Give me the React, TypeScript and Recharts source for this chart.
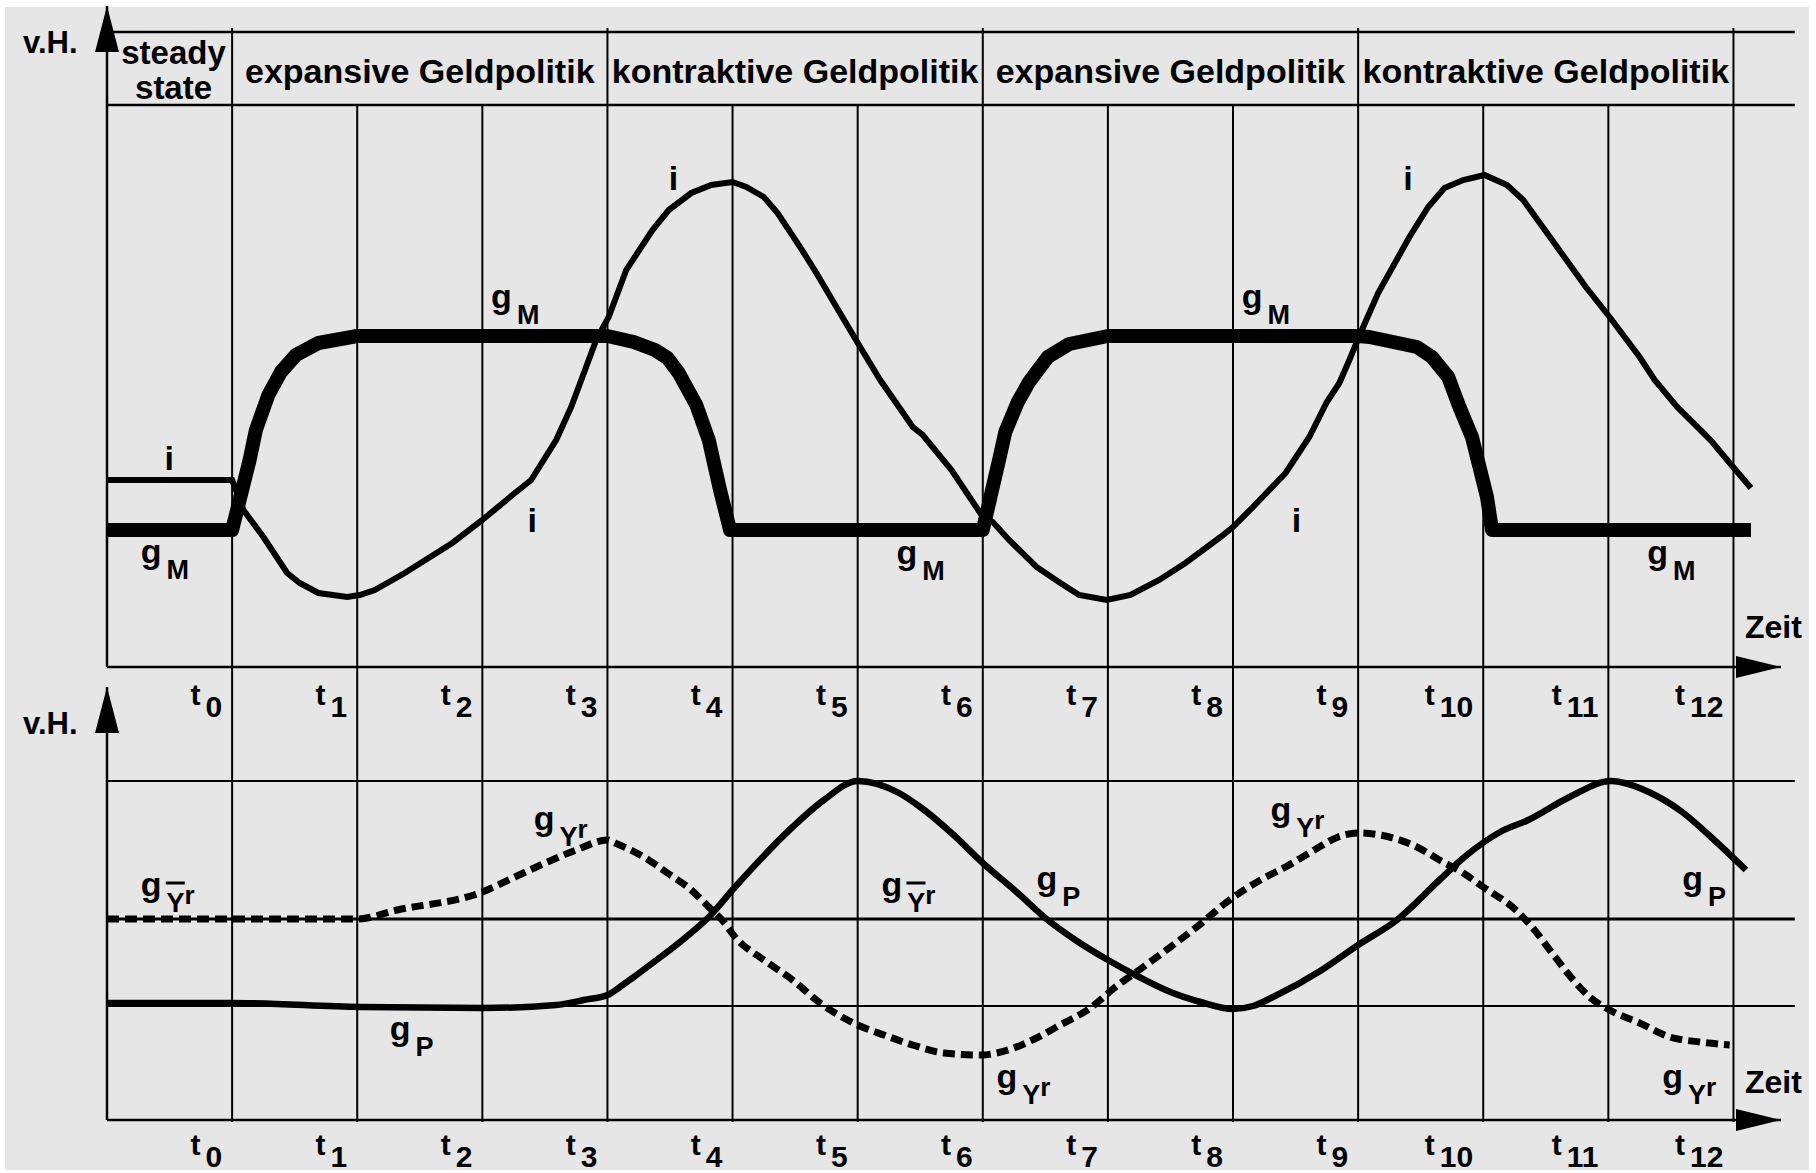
import React from 'react';
import { LineChart, Line, XAxis, YAxis, ReferenceLine, ReferenceArea, ReferenceDot } from 'recharts';

const FONT = '"Liberation Sans", Arial, Helvetica, sans-serif';

// ---------- time axis ----------
const timeTicks = [1, 2, 3, 4, 5, 6, 7, 8, 9, 10, 11, 12, 13];
const timeLabels = ['0', '1', '2', '3', '4', '5', '6', '7', '8', '9', '10', '11', '12'];
const policySwitches = [1, 4, 7, 10, 13];

// ---------- policy phases (header) ----------
const phaseStarts = [0, 1, 4, 7, 10];
const phaseEnds = [1, 4, 7, 10, 13];
const phaseNames = [
  ['steady', 'state'],
  ['expansive Geldpolitik'],
  ['kontraktive Geldpolitik'],
  ['expansive Geldpolitik'],
  ['kontraktive Geldpolitik'],
];

// ---------- upper panel: money growth g_M and interest rate i ----------
const gMPoints: [number, number][] = [
  [0, 13.7], [1.0, 13.7], [1.14, 20.7], [1.19, 23.7], [1.29, 27.2], [1.39, 29.5], [1.51, 31.2],
  [1.69, 32.4], [2.0, 33.1], [4.0, 33.1], [4.21, 32.5], [4.38, 31.7], [4.48, 30.9], [4.57, 29.4],
  [4.71, 26.2], [4.81, 22.7], [4.9, 17.7], [4.98, 13.7], [7.0, 13.7], [7.13, 20.7], [7.18, 23.5],
  [7.28, 26.5], [7.37, 28.5], [7.52, 31.0], [7.69, 32.3], [8.0, 33.1], [10.0, 33.1], [10.09, 33.0],
  [10.47, 32.0], [10.59, 31.0], [10.72, 29.0], [10.81, 26.0], [10.91, 23.0], [10.97, 20.0],
  [11.03, 17.0], [11.07, 13.7], [13.14, 13.7],
];

const iPoints: [number, number][] = [
  [0, 18.7], [1.0, 18.7], [1.09, 15.7], [1.25, 13.0], [1.44, 9.4], [1.54, 8.4], [1.69, 7.4],
  [1.92, 7.0], [2.02, 7.2], [2.14, 7.7], [2.38, 9.4], [2.76, 12.4], [3.0, 14.7], [3.26, 17.4],
  [3.39, 18.7], [3.59, 22.7], [3.71, 26.0], [3.91, 32.7], [4.01, 35.0], [4.15, 39.7], [4.36, 43.7],
  [4.49, 45.7], [4.67, 47.4], [4.83, 48.2], [5.0, 48.5], [5.11, 48.0], [5.25, 47.0], [5.36, 45.4],
  [5.54, 42.0], [5.67, 39.4], [5.83, 36.0], [6.02, 32.0], [6.18, 28.7], [6.33, 26.0], [6.44, 24.0],
  [6.52, 23.2], [6.75, 19.7], [6.99, 15.2], [7.08, 14.5], [7.21, 12.7], [7.43, 10.0], [7.62, 8.4],
  [7.77, 7.2], [7.99, 6.7], [8.18, 7.2], [8.41, 8.7], [8.62, 10.4], [8.9, 13.0], [9.0, 14.0],
  [9.16, 16.0], [9.42, 19.4], [9.61, 23.0], [9.75, 26.5], [9.85, 28.4], [9.93, 30.7], [10.03, 33.7],
  [10.16, 37.4], [10.41, 43.0], [10.56, 46.0], [10.69, 47.9], [10.84, 48.7], [11.01, 49.2],
  [11.19, 48.2], [11.32, 46.7], [11.55, 42.7], [11.82, 38.0], [12.01, 35.0], [12.25, 31.0],
  [12.37, 28.7], [12.55, 26.0], [12.76, 23.4], [12.83, 22.5], [12.97, 20.4], [13.14, 17.9],
];

// ---------- lower panel: inflation g_P and real growth g_Yr ----------
const gPPoints: [number, number][] = [
  [0, 11.7], [1.0, 11.7], [2.02, 11.3], [3.0, 11.2], [3.59, 11.5], [3.81, 12.0], [4.0, 12.5],
  [4.1, 13.3], [4.2, 14.2], [4.35, 15.6], [4.6, 18.0], [4.81, 20.3], [5.02, 23.3], [5.48, 29.3],
  [5.73, 32.0], [6.0, 33.9], [6.33, 32.7], [6.5, 31.3], [6.75, 28.7], [7.0, 25.7], [7.27, 22.8],
  [7.52, 20.0], [7.74, 18.0], [8.0, 16.0], [8.25, 14.3], [8.5, 12.8], [8.74, 11.8], [9.0, 11.1],
  [9.16, 11.4], [9.32, 12.3], [9.71, 15.0], [10.0, 17.5], [10.31, 20.0], [10.65, 24.0],
  [10.85, 26.3], [11.15, 28.9], [11.36, 30.0], [11.69, 32.3], [12.02, 33.9], [12.34, 32.7],
  [12.59, 30.8], [12.82, 28.3], [13.1, 25.0],
];

const gYrPoints: [number, number][] = [
  [0, 20.1], [2.0, 20.1], [2.32, 21.0], [3.0, 22.8], [3.26, 24.3], [3.52, 25.8], [3.75, 27.0],
  [4.0, 28.0], [4.06, 27.7], [4.29, 26.3], [4.48, 24.7], [4.67, 23.0], [4.81, 21.3], [4.93, 19.8],
  [5.02, 18.3], [5.25, 16.0], [5.48, 14.0], [5.7, 11.7], [6.0, 9.5], [6.21, 8.5], [6.44, 7.5],
  [6.69, 6.7], [6.99, 6.5], [7.11, 6.7], [7.43, 8.2], [7.59, 9.3], [7.87, 11.3], [8.06, 13.3],
  [8.25, 15.0], [8.5, 17.3], [8.75, 19.7], [8.94, 21.7], [9.22, 24.0], [9.42, 25.3], [9.65, 27.0],
  [9.84, 28.3], [10.0, 28.7], [10.25, 28.3], [10.47, 27.3], [10.65, 26.0], [10.84, 24.7],
  [11.0, 23.3], [11.26, 21.0], [11.39, 19.3], [11.55, 16.7], [11.72, 14.0], [11.85, 12.3],
  [12.01, 11.0], [12.25, 9.7], [12.49, 8.3], [12.73, 7.8], [12.97, 7.5],
];

// reference levels of the lower panel (upper band, potential growth g_Ȳr, lower band)
const lowerLevels = [33.9, 20.1, 11.4];
const potentialLevel = 20.1;

// ---------- curve annotations ----------
type Ann = { x: number; y: number; main: string; sub?: string; sup?: string; bar?: boolean };
const topAnnotations: Ann[] = [
  { x: 0.46, y: 19.7, main: 'i' },
  { x: 0.27, y: 10.4, main: 'g', sub: 'M' },
  { x: 3.07, y: 35.9, main: 'g', sub: 'M' },
  { x: 4.49, y: 47.7, main: 'i' },
  { x: 3.36, y: 13.5, main: 'i' },
  { x: 6.31, y: 10.3, main: 'g', sub: 'M' },
  { x: 9.07, y: 35.9, main: 'g', sub: 'M' },
  { x: 10.36, y: 47.7, main: 'i' },
  { x: 9.47, y: 13.5, main: 'i' },
  { x: 12.31, y: 10.3, main: 'g', sub: 'M' },
];
const bottomAnnotations: Ann[] = [
  { x: 0.27, y: 22.4, main: 'g', sub: 'Y', sup: 'r', bar: true },
  { x: 3.41, y: 29.0, main: 'g', sub: 'Y', sup: 'r' },
  { x: 2.26, y: 8.0, main: 'g', sub: 'P' },
  { x: 6.19, y: 22.4, main: 'g', sub: 'Y', sup: 'r', bar: true },
  { x: 7.43, y: 23.0, main: 'g', sub: 'P' },
  { x: 7.11, y: 3.2, main: 'g', sub: 'Y', sup: 'r' },
  { x: 9.3, y: 29.9, main: 'g', sub: 'Y', sup: 'r' },
  { x: 12.59, y: 23.0, main: 'g', sub: 'P' },
  { x: 12.43, y: 3.2, main: 'g', sub: 'Y', sup: 'r' },
];

const toRows = (pts: [number, number][]) => pts.map(([x, v]) => ({ x, v }));

// ---------- layout constants ----------
const X_MAX = 13.38;
const X_LINE_END = 13.49;
const TOP_Y_MAX = 66.1;
const BOT_Y_MAX = 43.3;
const HEADER_LOW = 56.2;
const HEADER_HIGH = 63.5;
const HEADER_TICK_TOP = 63.9;
const BOT_GRID_TOP = 45.3;
const BOT_GRID_BOTTOM = -0.2;

const txt = { fontFamily: FONT, fontWeight: 700 as const, fill: '#000' };

const makeTimeTick = (offset: number) => (props: any) => {
  const { x, y, payload } = props;
  const idx = timeTicks.indexOf(payload.value);
  return (
    <text x={x - 10} y={y + offset} textAnchor="end" fontSize={30} {...txt}>
      t<tspan dx={5} dy={12}>{timeLabels[idx]}</tspan>
    </text>
  );
};

const YHead = (props: any) => {
  const { viewBox } = props;
  const x = viewBox.x + viewBox.width;
  const y = viewBox.y;
  return (
    <g>
      <polygon points={`${x},${y} ${x - 12},${y + 46} ${x + 12},${y + 46}`} fill="#000" />
      <text x={x - 84} y={y + 47} fontSize={31} {...txt}>v.H.</text>
    </g>
  );
};

const XHead = (labelDy: number) => (props: any) => {
  const { viewBox } = props;
  const xr = viewBox.x + viewBox.width;
  const y = viewBox.y;
  return (
    <g>
      <polygon points={`${xr},${y} ${xr - 45},${y - 11} ${xr - 45},${y + 11}`} fill="#000" />
      <text x={xr - 36} y={y + labelDy} fontSize={32} {...txt}>Zeit</text>
    </g>
  );
};

const CurveLabel = (props: any) => {
  const { viewBox, ann } = props;
  const x = viewBox.x + viewBox.width / 2;
  const y = viewBox.y + viewBox.height / 2;
  const a: Ann = ann;
  return (
    <g>
      <text x={x} y={y} fontSize={34} {...txt}>
        {a.main}
        {a.sub ? (
          <tspan dx={5} dy={16} fontSize={27}>
            {a.sub}
          </tspan>
        ) : null}
        {a.sup ? (
          <tspan dy={-8} fontSize={26}>
            {a.sup}
          </tspan>
        ) : null}
      </text>
      {a.bar ? <line x1={x + 25} x2={x + 44} y1={y - 13} y2={y - 13} stroke="#000" strokeWidth={3} /> : null}
    </g>
  );
};

const PhaseLabel = (props: any) => {
  const { viewBox, lines } = props;
  const cx = viewBox.x + viewBox.width / 2;
  const top = viewBox.y;
  if (lines.length === 2) {
    return (
      <text textAnchor="middle" fontSize={33} {...txt}>
        <tspan x={cx + 4} y={top + 32}>{lines[0]}</tspan>
        <tspan x={cx + 4} y={top + 67}>{lines[1]}</tspan>
      </text>
    );
  }
  return (
    <text x={cx} y={top + 51} textAnchor="middle" fontSize={34} {...txt}>
      {lines[0]}
    </text>
  );
};

const TopPanel = () => (
  <LineChart width={1816} height={740} margin={{ top: 6, right: 35, bottom: 23, left: 0 }}>
    <XAxis
      type="number"
      dataKey="x"
      domain={[0, X_MAX]}
      ticks={timeTicks}
      allowDataOverflow
      height={50}
      tickSize={0}
      tickMargin={0}
      tickLine={false}
      axisLine={{ stroke: '#000', strokeWidth: 2.5 }}
      tick={makeTimeTick(38)}
      label={XHead(-29)}
    />
    <YAxis
      type="number"
      domain={[0, TOP_Y_MAX]}
      width={107}
      tick={false}
      tickLine={false}
      axisLine={{ stroke: '#000', strokeWidth: 2.5 }}
      label={YHead}
      allowDataOverflow
    />
    {/* header band */}
    <ReferenceLine
      segment={[{ x: 0, y: HEADER_HIGH }, { x: X_LINE_END, y: HEADER_HIGH }]}
      stroke="#000"
      strokeWidth={2.5}
      ifOverflow="visible"
    />
    <ReferenceLine
      segment={[{ x: 0, y: HEADER_LOW }, { x: X_LINE_END, y: HEADER_LOW }]}
      stroke="#000"
      strokeWidth={2.5}
      ifOverflow="visible"
    />
    {timeTicks.map((t) => (
      <ReferenceLine
        key={`v${t}`}
        segment={[{ x: t, y: 0 }, { x: t, y: policySwitches.includes(t) ? HEADER_TICK_TOP : HEADER_LOW }]}
        stroke="#000"
        strokeWidth={2}
        ifOverflow="visible"
      />
    ))}
    {phaseNames.map((lines, k) => (
      <ReferenceArea
        key={`p${k}`}
        x1={phaseStarts[k]}
        x2={phaseEnds[k]}
        y1={HEADER_LOW}
        y2={HEADER_HIGH}
        fill="none"
        fillOpacity={0}
        stroke="none"
        ifOverflow="visible"
        label={(p: any) => <PhaseLabel {...p} lines={lines} />}
      />
    ))}
    <Line
      data={toRows(iPoints)}
      dataKey="v"
      type="linear"
      stroke="#000"
      strokeWidth={6}
      dot={false}
      activeDot={false}
      isAnimationActive={false}
    />
    <Line
      data={toRows(gMPoints)}
      dataKey="v"
      type="linear"
      stroke="#000"
      strokeWidth={14}
      strokeLinejoin="round"
      dot={false}
      activeDot={false}
      isAnimationActive={false}
    />
    {topAnnotations.map((a, k) => (
      <ReferenceDot
        key={`ta${k}`}
        x={a.x}
        y={a.y}
        r={0}
        fill="none"
        stroke="none"
        ifOverflow="visible"
        label={(p: any) => <CurveLabel {...p} ann={a} />}
      />
    ))}
  </LineChart>
);

const BottomPanel = () => (
  <LineChart width={1816} height={533} margin={{ top: 47, right: 35, bottom: 13, left: 0 }}>
    <XAxis
      type="number"
      dataKey="x"
      domain={[0, X_MAX]}
      ticks={timeTicks}
      allowDataOverflow
      height={40}
      tickSize={0}
      tickMargin={0}
      tickLine={false}
      axisLine={{ stroke: '#000', strokeWidth: 2.5 }}
      tick={makeTimeTick(35)}
      label={XHead(-27)}
    />
    <YAxis
      type="number"
      domain={[0, BOT_Y_MAX]}
      width={107}
      tick={false}
      tickLine={false}
      axisLine={{ stroke: '#000', strokeWidth: 2.5 }}
      label={YHead}
      allowDataOverflow
    />
    {timeTicks.map((t) => (
      <ReferenceLine
        key={`bv${t}`}
        segment={[{ x: t, y: BOT_GRID_BOTTOM }, { x: t, y: BOT_GRID_TOP }]}
        stroke="#000"
        strokeWidth={2}
        ifOverflow="visible"
      />
    ))}
    {lowerLevels.map((lv) => (
      <ReferenceLine
        key={`h${lv}`}
        segment={[{ x: 0, y: lv }, { x: X_LINE_END, y: lv }]}
        stroke="#000"
        strokeWidth={lv === potentialLevel ? 3 : 2}
        ifOverflow="visible"
      />
    ))}
    <Line
      data={toRows(gPPoints)}
      dataKey="v"
      type="monotoneX"
      stroke="#000"
      strokeWidth={6.5}
      dot={false}
      activeDot={false}
      isAnimationActive={false}
    />
    <Line
      data={toRows(gYrPoints)}
      dataKey="v"
      type="monotoneX"
      stroke="#000"
      strokeWidth={7}
      strokeDasharray="12 6"
      dot={false}
      activeDot={false}
      isAnimationActive={false}
    />
    {bottomAnnotations.map((a, k) => (
      <ReferenceDot
        key={`ba${k}`}
        x={a.x}
        y={a.y}
        r={0}
        fill="none"
        stroke="none"
        ifOverflow="visible"
        label={(p: any) => <CurveLabel {...p} ann={a} />}
      />
    ))}
  </LineChart>
);

export default function App() {
  return (
    <div style={{ position: 'absolute', left: 0, top: 0, width: 1816, height: 1173, background: '#ffffff', overflow: 'hidden' }}>
      <div style={{ position: 'absolute', left: 5, top: 7, width: 1804, height: 1163, background: '#e6e6e6' }} />
      <div style={{ position: 'absolute', left: 0, top: 0 }}>
        <TopPanel />
      </div>
      <div style={{ position: 'absolute', left: 0, top: 640 }}>
        <BottomPanel />
      </div>
    </div>
  );
}
